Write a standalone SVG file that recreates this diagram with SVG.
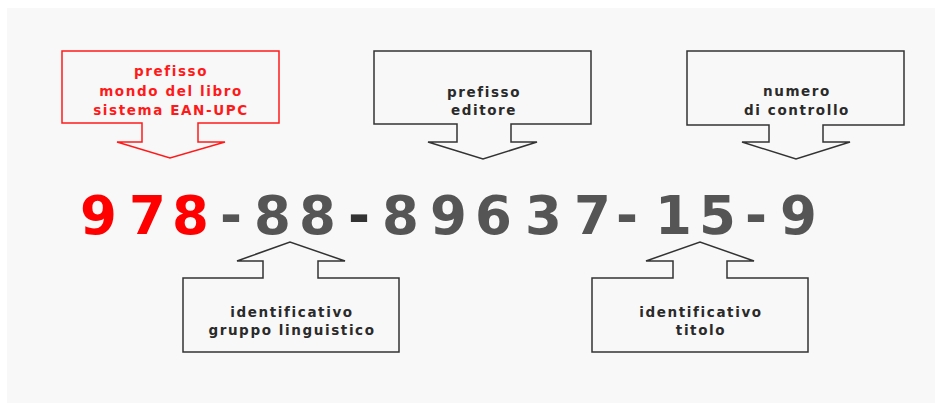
<svg xmlns="http://www.w3.org/2000/svg" width="935" height="403" viewBox="0 0 935 403">
<style>
.box{fill:none;stroke:#333;stroke-width:1.5;stroke-linejoin:miter}
.red{stroke:#ff1a1a}
.lbl{font-family:"DejaVu Sans","Liberation Sans",sans-serif;font-weight:bold;font-size:13.5px;fill:#2a2a2a;text-anchor:middle;letter-spacing:1.6px}
.lbl.r{fill:#ff1a1a}
.num{font-family:"DejaVu Sans","Liberation Sans",sans-serif;font-weight:bold;font-size:53px;fill:#555}
</style>
<rect x="0" y="0" width="935" height="403" fill="#fff"/>
<rect x="7" y="8" width="928" height="395" fill="#f8f8f8"/>
<g id="connectors">
<path class="box red" d="M62,51 H279 V123 H198 V142 H225 L170,158 L117,142 H142 V123 H62 Z"/>
<path class="box" d="M374,51 H591 V124 H511 V142 H537 L483,159 L428,142 H457 V124 H374 Z"/>
<path class="box" d="M687,51 H904 V125 H823 V142 H850 L796,159 L742,142 H769 V125 H687 Z"/>
<path class="box" d="M183,278 H263 V261 H237 L290,242 L345,261 H318 V278 H399 V352 H183 Z"/>
<path class="box" d="M592,278 H673 V261 H646 L700,242 L754,261 H727 V278 H808 V352 H592 Z"/>
</g>
<g id="n-prefisso-libro">
<text class="lbl r" x="171" y="76">prefisso</text>
<text class="lbl r" x="171" y="96">mondo del libro</text>
<text class="lbl r" x="171" y="115">sistema EAN-UPC</text>
</g>
<g id="n-prefisso-editore">
<text class="lbl" x="484" y="97">prefisso</text>
<text class="lbl" x="484" y="115">editore</text>
</g>
<g id="n-controllo">
<text class="lbl" x="797" y="96">numero</text>
<text class="lbl" x="797" y="115">di controllo</text>
</g>
<g id="n-gruppo">
<text class="lbl" x="292" y="317">identificativo</text>
<text class="lbl" x="292" y="335">gruppo linguistico</text>
</g>
<g id="n-titolo">
<text class="lbl" x="701" y="317">identificativo</text>
<text class="lbl" x="701" y="335">titolo</text>
</g>
<g id="isbn">
<text class="num" y="234"><tspan fill="#ff0000" x="80 129 172">978</tspan><tspan x="220">-</tspan><tspan x="254 299">88</tspan><tspan x="348" fill="#333">-</tspan><tspan x="382 430 475 525 574">89637</tspan><tspan x="616">-</tspan><tspan x="655 699">15</tspan><tspan x="745">-</tspan><tspan x="780">9</tspan></text>
</g>
</svg>
